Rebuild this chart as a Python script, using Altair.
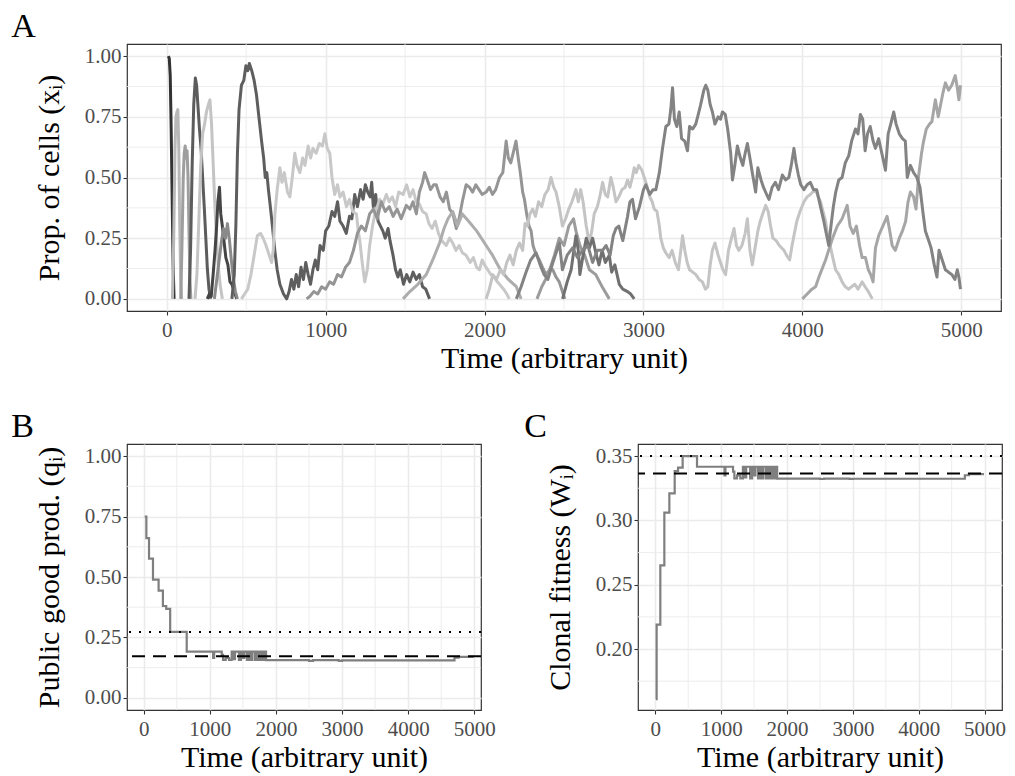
import altair as alt
import pandas as pd

FONT = "Liberation Serif"

# ---------------- Panel A: clone proportions (time, proportion) ----------------
CLONE_01 = [(10,1.0),(16,0.99),(22,0.92),(28,0.7),(34,0.42),(40,0.15),(46,0.0)]
CLONE_02 = [(36,0.0),(44,0.25),(52,0.62),(58,0.75),(64,0.77),(70,0.78),(76,0.62),(82,0.3),(88,0.08),(94,0.0)]
CLONE_03 = [(88,0.0),(96,0.22),(104,0.5),(110,0.6),(116,0.63),(122,0.58),(128,0.61),(134,0.5),(140,0.28),(146,0.08),(152,0.0)]
CLONE_04 = [(140,0.0),(150,0.2),(160,0.55),(170,0.8),(180,0.91),(188,0.88),(196,0.8),(206,0.7),(216,0.62),(226,0.5),
            (236,0.38),(246,0.25),(256,0.12),(266,0.04),(276,0.0)]
CLONE_05 = [(178,0.0),(190,0.1),(202,0.32),(214,0.55),(226,0.68),(238,0.72),(250,0.77),(262,0.8),(272,0.82),(282,0.72),
            (292,0.56),(302,0.4),(314,0.24),(326,0.12),(338,0.05),(350,0.0)]
CLONE_06 = [(255,0.0),(268,0.02),(280,0.01),(292,0.1),(304,0.2),(314,0.3),(322,0.4),(332,0.46),(340,0.35),(350,0.3),
            (360,0.24),(372,0.17),(385,0.14),(398,0.07),(410,0.06),(425,0.03),(440,0.0)]
CLONE_07 = [(300,0.0),(315,0.08),(330,0.16),(345,0.24),(358,0.29),(370,0.25),(382,0.31),(395,0.24),(408,0.15),(420,0.08),
            (432,0.03),(445,0.0)]
CLONE_08 = [(410,0.0),(425,0.1),(435,0.3),(445,0.6),(455,0.78),(470,0.88),(485,0.9),(498,0.96),(510,0.94),(520,0.97),
            (535,0.94),(550,0.9),(565,0.84),(580,0.75),(597,0.65),(610,0.58),(620,0.5),(630,0.52),(640,0.45),(652,0.38),
            (665,0.3),(680,0.2),(695,0.12),(712,0.06),(735,0.02),(755,0.0),(770,0.03),(785,0.08),(800,0.04),(815,0.1),
            (830,0.05),(845,0.13),(860,0.08),(875,0.15),(890,0.1),(905,0.06),(920,0.12),(935,0.16),(950,0.12),(965,0.22),
            (985,0.2),(1000,0.28),(1020,0.3),(1040,0.36),(1057,0.34),(1075,0.4),(1090,0.32),(1110,0.3),(1130,0.27),
            (1150,0.34),(1165,0.33),(1183,0.43),(1200,0.38),(1220,0.45),(1236,0.41),(1250,0.47),(1265,0.44),(1280,0.42),
            (1290,0.48),(1300,0.38),(1315,0.43),(1330,0.32),(1345,0.3),(1360,0.28),(1375,0.25),(1393,0.29),(1405,0.24),
            (1424,0.18),(1440,0.12),(1455,0.09),(1470,0.12),(1490,0.06),(1510,0.1),(1530,0.07),(1550,0.11),(1570,0.08),
            (1590,0.1),(1610,0.05),(1630,0.04),(1654,0.0)]
CLONE_09 = [(470,0.0),(490,0.02),(510,0.04),(530,0.1),(550,0.18),(570,0.26),(590,0.27),(607,0.25),(625,0.22),(645,0.18),
            (660,0.15),(670,0.2),(681,0.35),(695,0.45),(712,0.54),(725,0.48),(740,0.52),(760,0.44),(775,0.42),(790,0.5),
            (806,0.6),(820,0.55),(838,0.52),(855,0.58),(870,0.55),(890,0.63),(905,0.58),(920,0.62),(940,0.6),(960,0.64),
            (980,0.63),(995,0.68),(1010,0.62),(1026,0.6),(1040,0.5),(1057,0.43),(1075,0.47),(1090,0.42),(1110,0.44),
            (1131,0.38),(1150,0.41),(1170,0.36),(1194,0.35),(1205,0.28),(1215,0.24),(1230,0.15),(1246,0.07),(1262,0.12),
            (1277,0.22),(1295,0.3),(1310,0.35),(1325,0.38),(1340,0.41),(1360,0.39),(1382,0.43),(1400,0.4),(1420,0.42),
            (1440,0.38),(1460,0.44),(1487,0.43),(1510,0.47),(1530,0.42),(1550,0.45),(1570,0.4),(1590,0.39),(1610,0.36),
            (1633,0.35),(1650,0.31),(1670,0.29),(1690,0.32),(1710,0.27),(1730,0.24),(1759,0.22),(1780,0.25),(1800,0.23),
            (1820,0.2),(1840,0.22),(1860,0.19),(1884,0.18),(1910,0.15),(1930,0.17),(1950,0.13),(1968,0.12),(1985,0.16),
            (2000,0.14),(2020,0.12),(2040,0.1),(2060,0.09),(2080,0.07),(2094,0.06),(2120,0.04),(2140,0.02),(2156,0.0)]
CLONE_10 = [(880,0.0),(900,0.01),(925,0.03),(950,0.02),(975,0.05),(1000,0.04),(1025,0.07),(1050,0.06),(1075,0.1),
            (1100,0.09),(1125,0.13),(1150,0.15),(1175,0.2),(1200,0.27),(1225,0.3),(1250,0.28),(1277,0.35),(1300,0.37),
            (1325,0.33),(1350,0.4),(1375,0.36),(1400,0.38),(1425,0.34),(1450,0.37),(1475,0.33),(1508,0.385),(1530,0.37),
            (1550,0.4),(1571,0.35),(1590,0.44),(1610,0.48),(1623,0.52),(1640,0.49),(1660,0.45),(1680,0.47),(1696,0.47),
            (1720,0.42),(1740,0.4),(1760,0.44),(1780,0.37),(1801,0.35),(1822,0.29),(1840,0.33),(1860,0.4),(1884,0.47),
            (1905,0.46),(1925,0.44),(1945,0.47),(1965,0.45),(1985,0.43),(2010,0.44),(2030,0.46),(2050,0.43),(2070,0.45),
            (2094,0.5),(2115,0.52),(2128,0.6),(2136,0.65),(2150,0.58),(2165,0.56),(2180,0.6),(2198,0.65),(2212,0.58),
            (2225,0.52),(2240,0.44),(2251,0.41),(2265,0.35),(2280,0.3),(2293,0.28),(2305,0.22),(2320,0.19),(2345,0.16),
            (2365,0.13),(2387,0.1),(2410,0.12),(2429,0.12),(2450,0.09),(2470,0.07),(2490,0.03),(2505,0.0)]
CLONE_11 = [(2010,0.0),(2030,0.04),(2052,0.1),(2075,0.08),(2100,0.12),(2120,0.1),(2140,0.15),(2160,0.18),(2180,0.14),
            (2200,0.2),(2220,0.23),(2240,0.2),(2255,0.31),(2270,0.3),(2285,0.35),(2303,0.37),(2320,0.34),(2340,0.4),
            (2360,0.38),(2380,0.43),(2400,0.45),(2418,0.5),(2435,0.46),(2450,0.44),(2470,0.38),(2490,0.3),(2510,0.33),
            (2530,0.37),(2550,0.4),(2575,0.45),(2590,0.4),(2605,0.45),(2620,0.4),(2640,0.3),(2659,0.23),(2675,0.28),
            (2690,0.35),(2710,0.38),(2725,0.42),(2743,0.48),(2760,0.43),(2775,0.42),(2795,0.5),(2810,0.46),(2827,0.4),
            (2845,0.42),(2865,0.45),(2885,0.46),(2900,0.49),(2915,0.46),(2930,0.5),(2942,0.54),(2955,0.52),(2970,0.55),
            (2990,0.53),(3005,0.5),(3020,0.47),(3040,0.42),(3055,0.4),(3068,0.37),(3085,0.36),(3100,0.3),(3109,0.25),
            (3125,0.21),(3140,0.19),(3162,0.17),(3180,0.2),(3200,0.15),(3220,0.12),(3235,0.2),(3246,0.26),(3260,0.2),
            (3275,0.15),(3290,0.12),(3310,0.11),(3330,0.1),(3350,0.08),(3371,0.07),(3390,0.04),(3405,0.05),(3420,0.14),
            (3434,0.2),(3450,0.23),(3470,0.18),(3485,0.15),(3500,0.12),(3517,0.1),(3535,0.2),(3550,0.24),(3570,0.29),
            (3585,0.22),(3600,0.2),(3620,0.22),(3640,0.27),(3654,0.33),(3670,0.2),(3685,0.14),(3700,0.2),(3720,0.28),
            (3735,0.32),(3750,0.35),(3769,0.385),(3785,0.36),(3800,0.3),(3815,0.25),(3835,0.24),(3855,0.22),(3884,0.2),
            (3900,0.18),(3920,0.16),(3935,0.22),(3950,0.27),(3965,0.32),(3985,0.36),(4010,0.4),(4030,0.42),(4050,0.43),
            (4065,0.44),(4083,0.45),(4100,0.42),(4115,0.4),(4130,0.36),(4146,0.32),(4160,0.26),(4178,0.21),(4195,0.16),
            (4209,0.12),(4230,0.1),(4250,0.07),(4270,0.05),(4292,0.04),(4310,0.05),(4330,0.06),(4350,0.04),(4376,0.07),
            (4395,0.05),(4415,0.03),(4440,0.0)]
CLONE_12 = [(1487,0.0),(1530,0.03),(1580,0.06),(1633,0.1),(1680,0.17),(1717,0.23),(1745,0.29),(1770,0.33),(1800,0.36),
            (1830,0.3),(1860,0.35),(1900,0.32),(1950,0.28),(2010,0.22),(2050,0.18),(2100,0.12),(2150,0.08),(2200,0.05),
            (2230,0.0)]
CLONE_13 = [(2200,0.0),(2230,0.05),(2261,0.11),(2290,0.16),(2324,0.19),(2350,0.14),(2375,0.1),(2398,0.08),(2430,0.15),
            (2471,0.23),(2490,0.12),(2520,0.18),(2554,0.21),(2585,0.17),(2617,0.2),(2650,0.22),(2680,0.15),(2710,0.2),
            (2743,0.2),(2765,0.22),(2790,0.18),(2810,0.26),(2827,0.29),(2845,0.3),(2870,0.24),(2900,0.34),(2915,0.4),
            (2931,0.41),(2950,0.33),(2975,0.38),(3000,0.45),(3015,0.47),(3040,0.43),(3060,0.45),(3078,0.45),(3100,0.52),
            (3120,0.62),(3141,0.71),(3160,0.72),(3172,0.78),(3183,0.87),(3195,0.74),(3210,0.71),(3225,0.77),(3240,0.66),
            (3260,0.65),(3277,0.61),(3290,0.71),(3310,0.7),(3329,0.72),(3345,0.76),(3360,0.8),(3380,0.86),(3392,0.88),
            (3405,0.86),(3420,0.8),(3434,0.77),(3450,0.72),(3470,0.75),(3485,0.74),(3497,0.77),(3515,0.76),(3530,0.7),
            (3549,0.6),(3560,0.49),(3575,0.55),(3591,0.63),(3610,0.58),(3625,0.55),(3640,0.6),(3654,0.64),(3670,0.58),
            (3685,0.52),(3706,0.44),(3720,0.54),(3740,0.49),(3755,0.46),(3775,0.43),(3790,0.41),(3810,0.46),(3830,0.48),
            (3850,0.45),(3874,0.51),(3895,0.49),(3915,0.5),(3930,0.55),(3947,0.62),(3960,0.56),(3975,0.51),(3990,0.47),
            (4010,0.45),(4030,0.47),(4050,0.48),(4070,0.45),(4090,0.45),(4114,0.38),(4135,0.32),(4150,0.27),(4166,0.22),
            (4180,0.3),(4195,0.38),(4210,0.44),(4229,0.49),(4250,0.5),(4270,0.56),(4292,0.59),(4310,0.65),(4334,0.7),
            (4350,0.68),(4365,0.76),(4380,0.74),(4395,0.61),(4410,0.68),(4427,0.71),(4445,0.65),(4460,0.62),(4480,0.66),
            (4500,0.6),(4523,0.53),(4540,0.68),(4560,0.73),(4575,0.77),(4590,0.72),(4610,0.68),(4630,0.66),(4648,0.65),
            (4660,0.5),(4680,0.55),(4700,0.52),(4721,0.5),(4740,0.46),(4760,0.35),(4774,0.28),(4790,0.25),(4810,0.21),
            (4830,0.14),(4847,0.09),(4860,0.2),(4880,0.16),(4900,0.12),(4920,0.11),(4941,0.1),(4960,0.08),(4975,0.12),
            (4985,0.09),(4995,0.04)]
CLONE_14 = [(4000,0.0),(4030,0.02),(4060,0.04),(4083,0.05),(4110,0.1),(4146,0.16),(4170,0.21),(4190,0.25),(4220,0.3),
            (4250,0.33),(4282,0.385),(4300,0.3),(4320,0.27),(4340,0.3),(4360,0.22),(4376,0.17),(4397,0.17),(4415,0.12),
            (4430,0.1),(4445,0.07),(4460,0.21),(4480,0.26),(4500,0.29),(4533,0.34),(4550,0.28),(4565,0.22),(4585,0.2),
            (4610,0.25),(4630,0.28),(4650,0.32),(4665,0.4),(4680,0.44),(4700,0.42),(4715,0.37),(4732,0.51),(4750,0.6),
            (4763,0.65),(4780,0.7),(4800,0.72),(4815,0.73),(4837,0.82),(4855,0.75),(4870,0.8),(4885,0.85),(4900,0.89),
            (4920,0.86),(4940,0.88),(4962,0.92),(4975,0.87),(4985,0.82),(4995,0.88)]
CLONE_15 = [(2491,0.0),(2520,0.07),(2545,0.12),(2575,0.26),(2590,0.2),(2600,0.1),(2615,0.16),(2640,0.25),(2660,0.21),
            (2680,0.25),(2700,0.19),(2720,0.14),(2740,0.2),(2760,0.15),(2785,0.18),(2800,0.11),(2820,0.14),(2848,0.06),
            (2870,0.04),(2900,0.03),(2920,0.02),(2942,0.0)]
CLONE_16 = [(2330,0.0),(2360,0.05),(2400,0.1),(2440,0.18),(2470,0.25),(2500,0.22),(2530,0.3),(2560,0.33),(2575,0.28),
            (2600,0.22),(2630,0.18),(2660,0.12),(2700,0.1),(2740,0.05),(2785,0.0)]

CLONES = [CLONE_01, CLONE_02, CLONE_03, CLONE_04, CLONE_05, CLONE_06, CLONE_07, CLONE_08,
          CLONE_09, CLONE_10, CLONE_12, CLONE_11, CLONE_16, CLONE_15, CLONE_14, CLONE_13]
CLONE_NAMES = ["c01", "c02", "c03", "c04", "c05", "c06", "c07", "c08",
               "c09", "c10", "c12", "c11", "c16", "c15", "c14", "c13"]
CLONE_COLORS = ["#333333", "#b8b8b8", "#9e9e9e", "#5c5c5c", "#c4c4c4", "#454545", "#8a8a8a", "#5e5e5e",
                "#c8c8c8", "#959595", "#adadad", "#c4c4c4", "#9c9c9c", "#707070", "#a6a6a6", "#838383"]

# ---------------- Panel B: public good production (step series) ----------------
B_TIME = [15, 40, 80, 140, 225, 290, 340, 400, 650, 1050, 1065, 1180, 1200, 1240, 1290, 1330, 1360, 1380, 1440,
          1470, 1500, 1520, 1560, 1580, 1610, 1640, 1680, 1700, 1730, 1760, 1790, 1820, 1850, 2500, 2560, 2950, 3000,
          4700, 4760, 4990]
B_Q = [0.75, 0.661, 0.576, 0.489, 0.444, 0.38, 0.368, 0.273, 0.191, 0.165, 0.191, 0.178, 0.157, 0.165, 0.157, 0.191,
       0.16, 0.191, 0.157, 0.191, 0.165, 0.191, 0.157, 0.191, 0.157, 0.191, 0.157, 0.191, 0.157, 0.191, 0.157, 0.191,
       0.156, 0.153, 0.156, 0.153, 0.155, 0.166, 0.17, 0.17]
B_DOTTED = [0.273]
B_DASHED = [0.172]

# ---------------- Panel C: clonal fitness (step series) ----------------
C_TIME = [10, 20, 76, 137, 213, 294, 345, 415, 633, 1050, 1065, 1180, 1200, 1240, 1290, 1330, 1360, 1380, 1440,
          1470, 1500, 1520, 1560, 1580, 1610, 1640, 1680, 1700, 1730, 1760, 1790, 1820, 1850, 2500, 2560, 2950, 3000,
          4700, 4760, 4990]
C_W = [0.161, 0.219, 0.265, 0.306, 0.321, 0.3383, 0.341, 0.35, 0.3417, 0.335, 0.3417, 0.338, 0.3326, 0.335, 0.3326,
       0.3417, 0.3335, 0.3417, 0.3326, 0.3417, 0.335, 0.3417, 0.3326, 0.3417, 0.3326, 0.3417, 0.3326, 0.3417, 0.3326,
       0.3417, 0.3326, 0.3417, 0.3325, 0.3322, 0.3325, 0.3322, 0.3324, 0.3351, 0.336, 0.336]
C_DOTTED = [0.35]
C_DASHED = [0.3364]

# axis breaks
TIME_MAJOR = [0, 1000, 2000, 3000, 4000, 5000]
TIME_MINOR = [500, 1500, 2500, 3500, 4500]
AB_Y_MAJOR = [0, 0.25, 0.5, 0.75, 1.0]
AB_Y_MINOR = [0.125, 0.375, 0.625, 0.875]
C_Y_MAJOR = [0.20, 0.25, 0.30, 0.35]
C_Y_MINOR = [0.175, 0.225, 0.275, 0.325]

GRID = "#EBEBEB"
XTITLE = "Time (arbitrary unit)"

rows = []
for name, pts in zip(CLONE_NAMES, CLONES):
    for t, v in pts:
        rows.append({"clone": name, "time": t, "value": v})
dfA = pd.DataFrame(rows)


def xenc(domain):
    return alt.X("time:Q", scale=alt.Scale(domain=domain, nice=False, zero=False),
                 axis=alt.Axis(values=TIME_MAJOR, format="d", title=XTITLE, titlePadding=3, labelPadding=4))


def yenc(domain, values, title):
    return alt.Y("value:Q", scale=alt.Scale(domain=domain, nice=False, zero=False),
                 axis=alt.Axis(values=values, format=".2f", title=title, titlePadding=20))


def panel(xdom, ydom, ymajor, yminor, ytitle, data_layers):
    vgrid = alt.Chart(pd.DataFrame({"time": TIME_MINOR})).mark_rule(
        color=GRID, strokeWidth=0.9).encode(x=xenc(xdom))
    hgrid = alt.Chart(pd.DataFrame({"value": yminor})).mark_rule(
        color=GRID, strokeWidth=0.9).encode(y=yenc(ydom, ymajor, ytitle))
    return alt.layer(vgrid, hgrid, *data_layers)


def letter(text, dx):
    return alt.TitleParams(text, dx=dx, offset=0)


A_XDOM = [-250, 5250]
A_YDOM = [-0.05, 1.05]
linesA = alt.Chart(dfA).mark_line(strokeWidth=3, strokeJoin="round").encode(
    x=xenc(A_XDOM),
    y=yenc(A_YDOM, AB_Y_MAJOR, "Prop. of cells (xᵢ)"),
    color=alt.Color("clone:N", scale=alt.Scale(domain=CLONE_NAMES, range=CLONE_COLORS), legend=None),
    detail="clone:N",
)
chartA = panel(A_XDOM, A_YDOM, AB_Y_MAJOR, AB_Y_MINOR, "Prop. of cells (xᵢ)", [linesA]).properties(
    width=874, height=267, title=letter("A", -23))

B_XDOM = [-253, 5101]
dfB = pd.DataFrame({"time": B_TIME, "value": B_Q})
btitle = "Public good prod. (qᵢ)"
stepB = alt.Chart(dfB).mark_line(interpolate="step-after", color="#7f7f7f", strokeWidth=2.2).encode(
    x=xenc(B_XDOM), y=yenc(A_YDOM, AB_Y_MAJOR, btitle))
dotB = alt.Chart(pd.DataFrame({"value": B_DOTTED})).mark_rule(
    color="black", strokeWidth=2, strokeDash=[2, 8]).encode(y=yenc(A_YDOM, AB_Y_MAJOR, btitle))
dashB = alt.Chart(pd.DataFrame({"value": B_DASHED})).mark_rule(
    color="black", strokeWidth=2, strokeDash=[13, 8]).encode(y=yenc(A_YDOM, AB_Y_MAJOR, btitle))
chartB = panel(B_XDOM, A_YDOM, AB_Y_MAJOR, AB_Y_MINOR, btitle, [stepB, dotB, dashB]).properties(
    width=354, height=266, title=letter("B", -23))

C_XDOM = [-263, 5264]
C_YDOM = [0.1526, 0.3594]
dfC = pd.DataFrame({"time": C_TIME, "value": C_W})
ctitle = "Clonal fitness (Wᵢ)"
stepC = alt.Chart(dfC).mark_line(interpolate="step-after", color="#7f7f7f", strokeWidth=2.2).encode(
    x=xenc(C_XDOM), y=yenc(C_YDOM, C_Y_MAJOR, ctitle))
dotC = alt.Chart(pd.DataFrame({"value": C_DOTTED})).mark_rule(
    color="black", strokeWidth=2, strokeDash=[2, 8]).encode(y=yenc(C_YDOM, C_Y_MAJOR, ctitle))
dashC = alt.Chart(pd.DataFrame({"value": C_DASHED})).mark_rule(
    color="black", strokeWidth=2, strokeDash=[13, 8]).encode(y=yenc(C_YDOM, C_Y_MAJOR, ctitle))
chartC = panel(C_XDOM, C_YDOM, C_Y_MAJOR, C_Y_MINOR, ctitle, [stepC, dotC, dashC]).properties(
    width=364, height=266, title=letter("C", -21))

bottom = alt.hconcat(chartB, chartC, spacing=27)
chart = alt.vconcat(chartA, bottom, spacing=34).properties(
    padding={"left": 2, "top": 0, "right": 0, "bottom": 0}
).configure_view(
    stroke="#333333", strokeWidth=1.2
).configure_axis(
    labelFont=FONT, labelFontSize=21, labelColor="#4D4D4D", labelPadding=2, labelFlush=False,
    titleFont=FONT, titleFontSize=30, titleFontWeight="normal", titleColor="black",
    tickColor="#333333", tickSize=4, tickWidth=1.1, domain=False,
    gridColor=GRID, gridWidth=1.6,
).configure_title(
    font=FONT, fontSize=34, fontWeight="normal", anchor="start", color="black"
)

chart.save("out.html", embed_options={"renderer": "svg", "actions": False})
